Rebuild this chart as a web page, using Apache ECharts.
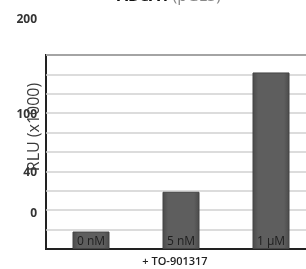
<!DOCTYPE html>
<html>
<head>
<meta charset="utf-8">
<script src="https://cdn.jsdelivr.net/npm/echarts@6/dist/echarts.min.js"></script>
<style>
  html, body { margin: 0; padding: 0; background: #fff; }
  #chart { width: 306px; height: 269px; }
</style>
</head>
<body>
<div id="chart"></div>
<script>
// data
var categories = ['0 nM', '5 nM', '1 \u00b5M'];
var rlu = [9, 29.5, 91];
// the printed tick labels and where they sit on the value scale
var tickLabels = ['200', '100', '40', '0'];
var tickValues = [119, 70, 40, 19];

var chart = echarts.init(document.getElementById('chart'));

chart.setOption({
    animation: false,
    grid: {
        left: 46, right: -10, top: 55, bottom: 20,
        outerBoundsMode: 'none',
        containLabel: false,
        show: true,
        borderColor: '#222',
        borderWidth: 2
    },
    xAxis: {
        type: 'category',
        data: categories,
        axisLine: { show: true, lineStyle: { color: '#222', width: 2 } },
        axisTick: { show: false },
        axisLabel: { show: false }
    },
    yAxis: {
        type: 'value',
        min: 0, max: 100, interval: 10,
        axisLine: { show: false },
        axisTick: { show: false },
        axisLabel: { show: false },
        splitLine: { lineStyle: { color: '#d0d0d0', width: 1.5 } }
    },
    series: [{
        type: 'bar',
        data: rlu,
        barWidth: 37,
        itemStyle: {
            color: new echarts.graphic.LinearGradient(0, 0, 1, 0, [
                { offset: 0, color: '#4a4a4a' },
                { offset: 0.15, color: '#5e5e5e' },
                { offset: 0.85, color: '#5e5e5e' },
                { offset: 1, color: '#4a4a4a' }
            ]),
            borderColor: '#444',
            borderWidth: 1
        },
        label: {
            show: true,
            position: 'insideBottom',
            distance: 1,
            formatter: '{b}',
            fontSize: 12,
            color: '#1e1e1e',
            fontFamily: 'Open Sans'
        }
    }]
});

// printed tick labels and the axis titles, placed through the axis scale
var labels = tickLabels.map(function (t, i) {
    var p = chart.convertToPixel({ yAxisIndex: 0 }, tickValues[i]);
    return {
        type: 'text',
        x: 37, y: p + 1,
        style: {
            text: t, align: 'right', verticalAlign: 'middle',
            font: 'bold 12px "Open Sans"', fill: '#333'
        },
        z: 10
    };
});
labels.push({
    type: 'text',
    x: 34, y: 127,
    rotation: Math.PI / 2,
    style: {
        text: 'RLU (x1000)', align: 'center', verticalAlign: 'middle',
        font: '16px "Open Sans"', fill: '#3a3a3a'
    },
    z: 10
});
labels.push({
    type: 'text',
    x: 175, y: 262,
    style: {
        text: '+ TO-901317', align: 'center', verticalAlign: 'middle',
        font: '600 11px "Open Sans"', fill: '#222'
    },
    z: 10
});
// title, cut off at the top edge
labels.push({
    type: 'text',
    x: 117, y: 4,
    style: {
        text: '{b|ABCA1} {g|(pGL3)}',
        align: 'left', verticalAlign: 'bottom',
        rich: {
            b: { font: 'bold 16px "Open Sans"', fill: '#111' },
            g: { font: '16px "Open Sans"', fill: '#888' }
        }
    },
    z: 10
});
chart.setOption({ graphic: labels });
</script>
</body>
</html>
